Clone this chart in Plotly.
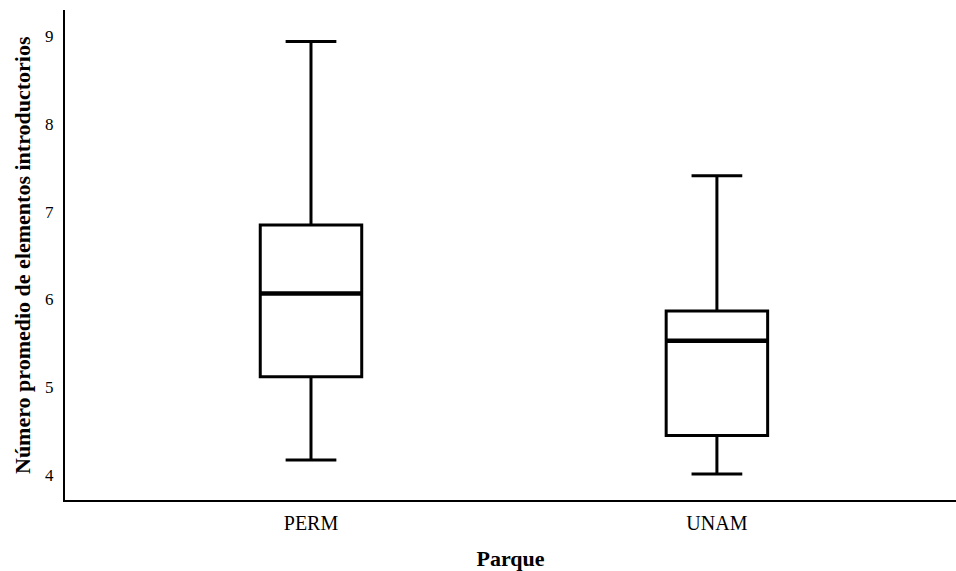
import plotly.graph_objects as go

categories = ["PERM", "UNAM"]
lower_whisker = [4.17, 4.01]
q1_vals = [5.12, 4.45]
median_vals = [6.07, 5.53]
q3_vals = [6.85, 5.87]
upper_whisker = [8.94, 7.41]
y_ticks = [4, 5, 6, 7, 8, 9]

box_w = 0.25
fig = go.Figure()
for i, c in enumerate(categories):
    fig.add_trace(go.Box(
        x=[i], q1=[q1_vals[i]], median=[median_vals[i]], q3=[q3_vals[i]],
        lowerfence=[lower_whisker[i]], upperfence=[upper_whisker[i]],
        width=box_w, whiskerwidth=0.5, fillcolor="white",
        line=dict(color="black", width=3), name=c, showlegend=False,
        hoverinfo="skip"))
    fig.add_trace(go.Scatter(
        x=[i - box_w / 2, i + box_w / 2], y=[median_vals[i], median_vals[i]],
        mode="lines", line=dict(color="black", width=4.5), showlegend=False,
        hoverinfo="skip"))

font_family = "Liberation Serif"
fig.update_layout(
    width=956, height=571,
    margin=dict(l=65, r=0, t=10, b=71),
    plot_bgcolor="white", paper_bgcolor="white",
    font=dict(family=font_family, color="black"),
    xaxis=dict(
        range=[-0.606, 1.589], tickvals=[0, 1], ticktext=categories,
        showgrid=False, zeroline=False, showline=True, linecolor="black",
        linewidth=2, ticks="", tickfont=dict(size=20, family=font_family),
        ticklabelstandoff=4,
        title=dict(text="<b>Parque</b>", font=dict(size=22, family=font_family),
                   standoff=18)),
    yaxis=dict(
        range=[3.715, 9.30], tickvals=y_ticks, showgrid=False, zeroline=False,
        showline=True, linecolor="black", linewidth=2, ticks="",
        tickfont=dict(size=17, family=font_family), ticklabelstandoff=6),
    annotations=[dict(
        text="<b>Número promedio de elementos introductorios</b>",
        xref="paper", yref="paper", x=0, y=0.5, xshift=-43,
        xanchor="center", yanchor="middle", textangle=-90, showarrow=False,
        font=dict(size=22, family=font_family, color="black"))],
)
fig.write_html("out.html")
